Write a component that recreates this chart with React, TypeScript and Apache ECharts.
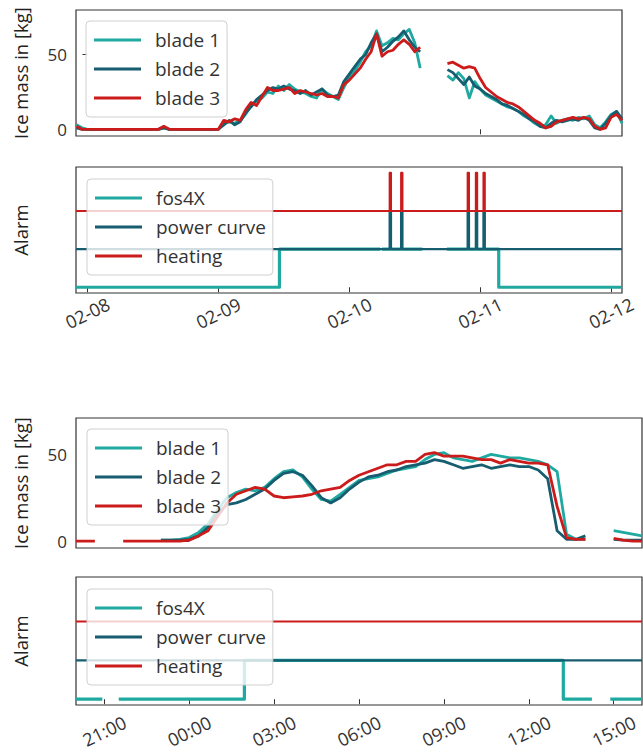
import React, { useEffect, useRef } from "react";
import * as echarts from "echarts";

// ---------- axis ticks ----------
const topTickHours = [0, 24, 48, 72, 96];
const topTickLabels = ["02-08", "02-09", "02-10", "02-11", "02-12"];
const bottomTickHours = [-3, 0, 3, 6, 9, 12, 15];
const bottomTickLabels = ["21:00", "00:00", "03:00", "06:00", "09:00", "12:00", "15:00"];
const iceTicks = [0, 50];

// ---------- top figure: ice mass, hourly from 02-07 22:00 (hours relative to 02-08 00:00) ----------
const topStartHour = -2;
const topStepHours = 1;
const topBlade1: (number | null)[] = [
  3, 1, 0, 0, 0, 0, 0, 0, 0, 0, 0, 0, 0, 0, 0, 0, 1, 0, 0, 0, 0, 0, 0, 0, 0, 0, 0,
  4, 5, 4, 6, 10, 16, 19, 21, 25, 24, 29, 26, 30, 27, 25, 24, 22, 21, 27, 24, 22, 20,
  28, 35, 39, 45, 52, 56, 66, 56, 58, 61, 60, 64, 67, 58, 41,
  null, null, null, null,
  36, 33, 38, 34, 21, 32, 27, 23, 21, 19, 17, 15, 14, 12, 9, 7, 4, 2, 3, 9, 4, 6, 7, 6, 8, 7, 9, 3, 1, 5, 10, 12, 4,
];
const topBlade2: (number | null)[] = [
  1, 0, 0, 0, 0, 0, 0, 0, 0, 0, 0, 0, 0, 0, 0, 0, 1, 0, 0, 0, 0, 0, 0, 0, 0, 0, 0,
  3, 6, 3, 5, 11, 15, 20, 23, 26, 28, 27, 29, 27, 26, 24, 26, 23, 25, 27, 23, 22, 23,
  32, 37, 42, 47, 50, 58, 64, 52, 55, 59, 62, 66, 60, 55, 52,
  null, null, null, null,
  40, 38, 34, 30, 35, 29, 27, 24, 22, 20, 17, 16, 14, 12, 10, 7, 5, 2, 1, 4, 6, 5, 6, 7, 6, 8, 6, 1, 0, 4, 9, 12, 7,
];
const topBlade3: (number | null)[] = [
  2, 0, 0, 0, 0, 0, 0, 0, 0, 0, 0, 0, 0, 0, 0, 0, 2, 0, 0, 0, 0, 0, 0, 0, 0, 0, 0,
  6, 5, 7, 6, 13, 18, 16, 22, 28, 26, 26, 27, 28, 24, 26, 25, 24, 23, 24, 22, 22, 21,
  30, 33, 37, 41, 47, 52, 64, 49, 52, 53, 57, 60, 57, 52, 55,
  null, null, null, null,
  44, 45, 43, 41, 42, 41, 34, 28, 25, 22, 20, 18, 17, 15, 12, 9, 6, 4, 1, 2, 5, 6, 7, 8, 7, 8, 7, 2, 0, 1, 8, 10, 6,
];

// ---------- bottom figure: ice mass, every 20 min from 20:00 (hours relative to 00:00) ----------
const bottomStartHour = -4;
const bottomStepHours = 1 / 3;
const bottomBlade1: (number | null)[] = [
  null, null, null, null, null, null, null, null, null,
  0.5, 0.5, 1, 2, 5, 10, 18, 25, 28, 30, 29, 31, 36, 40, 41, 37, 30, 24, 23, 27, 31,
  35, 36, 37, 39, 41, 42, 43, 47, 50, 51, 48, 47, 46, 48, 50, 49, 48, 48, 47, 46,
  44, 40, 4, 1, 1, null, null, 6, 5, 4, 3,
];
const bottomBlade2: (number | null)[] = [
  null, null, null, null, null, null, null, null, null,
  0.5, 0.5, 0.5, 1, 3, 8, 16, 21, 22, 24, 27, 30, 35, 39, 40, 38, 32, 25, 22, 25, 30,
  34, 37, 38, 40, 41, 43, 44, 45, 47, 46, 44, 42, 43, 44, 42, 43, 44, 43, 43, 41,
  36, 6, 1, 1, 3, null, null, 1, 0.5, 0.5, 0.5,
];
const bottomBlade3: (number | null)[] = [
  0, 0, 0, null, null, 0, 0, 0, 0,
  0, 0, 0, 0.5, 3, 6, 14, 22, 27, 29, 31, 30, 26, 25, 25.5, 26, 27, 29, 30, 31, 35,
  38, 40, 42, 44, 44, 46, 46, 50, 51, 49, 49, 49, 48, 47, 47, 45, 47, 46, 45, 45,
  44, 20, 2, 1, 1, null, null, 1.5, 0.5, 0, 0,
];

// ---------- alarms (levels: fos4X 0/1, power curve 1/2, heating 2/3) ----------
const topXMin = -2.1;
const topXMax = 98;
const bottomXMin = -4;
const bottomXMax = 16;
const topAlarmTimes = [55.4, 57.5, 69.7, 71.2, 72.6];
const alarmSpikeHours = 0.25;
const topFos4X: [number, number | null][] = [
  [-2.1, 0], [35.2, 0], [35.2, 1], [53.7, 1], [53.7, null], [54.0, 1], [61.4, 1], [61.4, null],
  [65.9, 1], [75.4, 1], [75.4, 0], [98, 0],
];
const bottomFos4X: [number, number | null][] = [
  [-4, 0], [-3.07, 0], [-3.07, null], [-2.49, 0], [1.95, 0], [1.95, 1], [13.22, 1], [13.22, 0],
  [14.23, 0], [14.23, null], [14.88, 0], [16, 0],
];
const powerBase = 1;
const heatingBase = 2;

const C1 = "#1fa9a0";
const C2 = "#155d6f";
const C3 = "#cc1b1b";
const FONT = "Open Sans";

const toPairs = (start: number, step: number, vals: (number | null)[]) =>
  vals.map((v, i) => [start + i * step, v]);

const spikes = (base: number, x0: number, x1: number, times: number[], w: number) => {
  const pts: [number, number][] = [[x0, base]];
  times.forEach((t) => {
    pts.push([t, base], [t, base + 1], [t + w, base + 1], [t + w, base]);
  });
  pts.push([x1, base]);
  return pts;
};

const fmt = (hours: number[], labels: string[]) => (v: number) => {
  const i = hours.findIndex((h) => Math.abs(h - v) < 1e-6);
  return i >= 0 ? labels[i] : "";
};

export default function App() {
  const ref = useRef<HTMLDivElement>(null);

  useEffect(() => {
    document.body.style.margin = "0";
    if (!ref.current) return;
    const chart = echarts.init(ref.current, undefined, { renderer: "svg" });

    const gridBase = {
      show: true,
      borderColor: "#333",
      borderWidth: 1.2,
      backgroundColor: "transparent",
      outerBoundsMode: "none",
      containLabel: false,
    };

    const lineSeries = (name: string, color: string, x: number, y: number, data: any[], width: number, z = 2) => ({
      type: "line",
      name,
      xAxisIndex: x,
      yAxisIndex: y,
      data,
      showSymbol: false,
      symbol: "none",
      connectNulls: false,
      silent: true,
      z,
      color,
      itemStyle: { color },
      lineStyle: { color, width, join: "round", cap: "butt" },
      emphasis: { disabled: true },
    });

    const legendBase = {
      orient: "vertical",
      icon: "rect",
      itemWidth: 47,
      itemHeight: 3,
      itemGap: 9,
      padding: [9, 7, 9, 8],
      backgroundColor: "rgba(255,255,255,0.8)",
      borderColor: "#cfcfcf",
      borderWidth: 1,
      borderRadius: 4,
      selectedMode: false,
      textStyle: { fontSize: 19, color: "#333", fontFamily: FONT, lineHeight: 20, padding: [0, 0, 0, 9] },
    };

    const tickStyle = { lineStyle: { color: "#333", width: 1 }, length: 5 };

    const dateLabel = (hours: number[], labels: string[], margin: number) => ({
      show: true,
      customValues: hours,
      formatter: fmt(hours, labels),
      rotate: 26,
      align: "center",
      verticalAlign: "middle",
      margin,
      fontSize: 18,
      lineHeight: 18,
      color: "#333",
      fontFamily: FONT,
    });

    const yName = (name: string, gap: number) => ({
      name,
      nameLocation: "middle",
      nameRotate: 90,
      nameGap: gap,
      nameTextStyle: { fontSize: 18.5, color: "#222", fontFamily: FONT },
    });

    const option: any = {
      animation: false,
      backgroundColor: "#ffffff",
      textStyle: { fontFamily: FONT },
      grid: [
        { ...gridBase, left: 76, top: 10, width: 546, height: 126 },
        { ...gridBase, left: 76, top: 167, width: 546, height: 126 },
        { ...gridBase, left: 76, top: 418, width: 566, height: 130 },
        { ...gridBase, left: 76, top: 577, width: 566, height: 128 },
      ],
      xAxis: [
        {
          gridIndex: 0, type: "value", min: topXMin, max: topXMax,
          axisLine: { show: false }, splitLine: { show: false },
          axisLabel: { show: false },
          axisTick: { show: true, customValues: [72], ...tickStyle },
        },
        {
          gridIndex: 1, type: "value", min: topXMin, max: topXMax,
          axisLine: { show: false }, splitLine: { show: false },
          axisLabel: dateLabel(topTickHours, topTickLabels, 20),
          axisTick: { show: true, customValues: topTickHours, ...tickStyle },
        },
        {
          gridIndex: 2, type: "value", min: bottomXMin, max: bottomXMax,
          axisLine: { show: false }, splitLine: { show: false },
          axisLabel: { show: false }, axisTick: { show: false },
        },
        {
          gridIndex: 3, type: "value", min: bottomXMin, max: bottomXMax,
          axisLine: { show: false }, splitLine: { show: false },
          axisLabel: dateLabel(bottomTickHours, bottomTickLabels, 26),
          axisTick: { show: true, customValues: bottomTickHours, ...tickStyle },
        },
      ],
      yAxis: [
        {
          gridIndex: 0, type: "value", min: -4.5, max: 80,
          axisLine: { show: false }, splitLine: { show: false },
          axisTick: { show: true, customValues: iceTicks, ...tickStyle },
          axisLabel: { customValues: iceTicks, fontSize: 17, color: "#333", margin: 9, fontFamily: FONT },
          ...yName("Ice mass in [kg]", 46),
        },
        {
          gridIndex: 1, type: "value", min: -0.15, max: 3.15,
          axisLine: { show: false }, splitLine: { show: false },
          axisTick: { show: false }, axisLabel: { show: false },
          ...yName("Alarm", 46),
        },
        {
          gridIndex: 2, type: "value", min: -4, max: 71,
          axisLine: { show: false }, splitLine: { show: false },
          axisTick: { show: true, customValues: iceTicks, ...tickStyle },
          axisLabel: { customValues: iceTicks, fontSize: 17, color: "#333", margin: 9, fontFamily: FONT },
          ...yName("Ice mass in [kg]", 46),
        },
        {
          gridIndex: 3, type: "value", min: -0.15, max: 3.15,
          axisLine: { show: false }, splitLine: { show: false },
          axisTick: { show: false }, axisLabel: { show: false },
          ...yName("Alarm", 46),
        },
      ],
      legend: [
        { ...legendBase, left: 86, top: 21, data: ["blade 1", "blade 2", "blade 3"] },
        { ...legendBase, left: 87, top: 179, data: ["fos4X", "power curve", "heating"] },
        { ...legendBase, left: 87, top: 429, data: ["blade 1", "blade 2", "blade 3"] },
        { ...legendBase, left: 87, top: 589, data: ["fos4X", "power curve", "heating"] },
      ],
      series: [
        lineSeries("blade 1", C1, 0, 0, toPairs(topStartHour, topStepHours, topBlade1), 2.8),
        lineSeries("blade 2", C2, 0, 0, toPairs(topStartHour, topStepHours, topBlade2), 2.8),
        lineSeries("blade 3", C3, 0, 0, toPairs(topStartHour, topStepHours, topBlade3), 2.8),
        lineSeries("fos4X", C1, 1, 1, topFos4X, 3.2),
        lineSeries("power curve", C2, 1, 1, spikes(powerBase, topXMin, topXMax, topAlarmTimes, alarmSpikeHours), 2.2),
        lineSeries("heating", C3, 1, 1, spikes(heatingBase, topXMin, topXMax, topAlarmTimes, alarmSpikeHours), 2),
        lineSeries("blade 1", C1, 2, 2, toPairs(bottomStartHour, bottomStepHours, bottomBlade1), 2.8),
        lineSeries("blade 2", C2, 2, 2, toPairs(bottomStartHour, bottomStepHours, bottomBlade2), 2.8),
        lineSeries("blade 3", C3, 2, 2, toPairs(bottomStartHour, bottomStepHours, bottomBlade3), 2.8),
        lineSeries("fos4X", C1, 3, 3, bottomFos4X, 3.2),
        lineSeries("power curve", C2, 3, 3, spikes(powerBase, bottomXMin, bottomXMax, [], alarmSpikeHours), 2.2),
        lineSeries("heating", C3, 3, 3, spikes(heatingBase, bottomXMin, bottomXMax, [], alarmSpikeHours), 2),
      ],
    };

    chart.setOption(option);
    return () => chart.dispose();
  }, []);

  return (
    <div
      ref={ref}
      style={{ position: "absolute", left: 0, top: 0, width: 643, height: 754, background: "#fff" }}
    />
  );
}
